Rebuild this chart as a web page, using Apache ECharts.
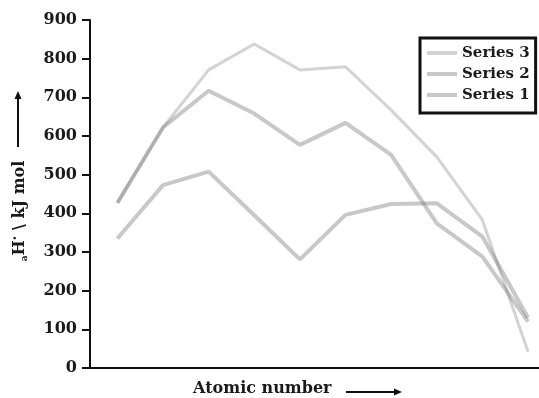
<!DOCTYPE html>
<html><head><meta charset="utf-8">
<script src="https://cdn.jsdelivr.net/npm/echarts@6/dist/echarts.min.js"></script>
<style>html,body{margin:0;padding:0;background:#fff}#c{width:539px;height:398px}</style>
</head><body><div id="c"></div>
<script>
var atomicIndex = [1, 2, 3, 4, 5, 6, 7, 8, 9, 10];
var series1 = [335, 473, 508, 395, 281, 396, 424, 426, 340, 130];
var series2 = [427, 622, 717, 658, 577, 634, 551, 374, 288, 120];
var series3 = [427, 622, 771, 838, 771, 779, 667, 546, 383, 42];
var yTicks = [0, 100, 200, 300, 400, 500, 600, 700, 800, 900];
var seriesNames = ['Series 3', 'Series 2', 'Series 1'];

function pairs(v){ return atomicIndex.map(function(x,i){ return [x, v[i]]; }); }
var F = 'DejaVu Serif';
var C12 = 'rgba(110,110,110,0.38)', C3 = 'rgba(110,110,110,0.3)';
var chart = echarts.init(document.getElementById('c'), null, {renderer:'canvas'});
chart.setOption({
  animation:false,
  grid:{left:90, right:0, top:20, bottom:30},
  xAxis:[
    {type:'value', min:0.4, max:10.24, axisLine:{show:true, onZero:false, lineStyle:{color:'#111', width:2}},
     axisTick:{show:false}, axisLabel:{show:false}, splitLine:{show:false}},
    {type:'value', position:'top', min:0.4, max:10.24, axisLine:{show:true, lineStyle:{color:'#111', width:2}},
     axisTick:{show:false}, axisLabel:{show:false}, splitLine:{show:false}}
  ],
  yAxis:{type:'value', min:yTicks[0], max:yTicks[yTicks.length-1], interval:100,
    axisLine:{show:true, lineStyle:{color:'#111', width:2}},
    axisTick:{show:true, length:8, lineStyle:{color:'#111', width:2}},
    axisLabel:{margin:13, color:'#1a1a1a', fontFamily:F, fontWeight:'bold', fontSize:16},
    splitLine:{show:false}},
  legend:{orient:'vertical', left:420, top:38, data:seriesNames, icon:'rect',
    borderColor:'#111', borderWidth:3, padding:[5,6,8,7], itemGap:1, itemWidth:30, itemHeight:4,
    textStyle:{fontFamily:F, fontWeight:'bold', fontSize:15, color:'#1a1a1a', lineHeight:20}},
  series:[
    {name:'Series 1', type:'line', data:pairs(series1), symbol:'none', lineStyle:{width:4, color:C12}, itemStyle:{color:C12}},
    {name:'Series 2', type:'line', data:pairs(series2), symbol:'none', lineStyle:{width:4, color:C12}, itemStyle:{color:C12}},
    {name:'Series 3', type:'line', data:pairs(series3), symbol:'none', lineStyle:{width:3, color:C3}, itemStyle:{color:C3}}
  ],
  graphic:[
    {type:'text', left:193, top:381, style:{text:'Atomic number', fontFamily:F, fontWeight:'bold', fontSize:16, fill:'#1a1a1a'}},
    {type:'line', shape:{x1:346, y1:392, x2:396, y2:392}, style:{stroke:'#111', lineWidth:2}},
    {type:'polygon', shape:{points:[[402,392],[394,388.5],[394,395.5]]}, style:{fill:'#111'}},
    {type:'text', x:20, y:211, rotation:Math.PI/2,
     style:{text:'{s|a}H{p|·} \\ kJ mol', fontFamily:F, fontWeight:'bold', fontSize:16, fill:'#1a1a1a', align:'center', verticalAlign:'middle',
       rich:{s:{fontSize:9, fontFamily:F, fontWeight:'bold', padding:[10,0,0,0]}, p:{fontSize:14, fontFamily:F, fontWeight:'bold', padding:[0,0,8,0]}}}},
    {type:'line', shape:{x1:18, y1:147, x2:18, y2:98}, style:{stroke:'#111', lineWidth:2}},
    {type:'polygon', shape:{points:[[18,91],[14.5,99],[21.5,99]]}, style:{fill:'#111'}}
  ]
});
</script></body></html>
